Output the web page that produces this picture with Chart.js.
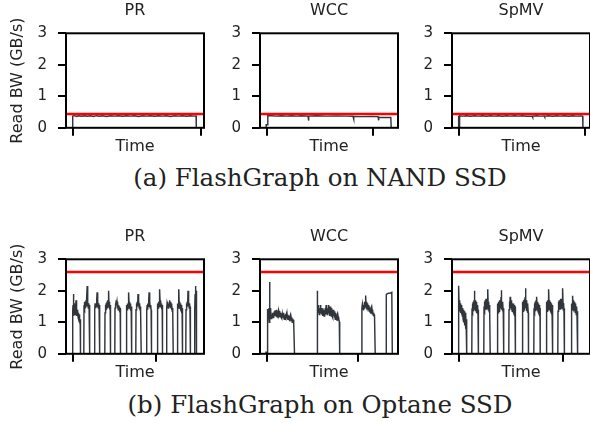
<!DOCTYPE html>
<html lang="en">
<head>
  <meta charset="UTF-8">
  <title>FlashGraph read bandwidth</title>
  <script src="https://cdn.jsdelivr.net/npm/chart.js@4.4.1/dist/chart.umd.min.js"></script>
  <style>
    html, body {
      margin: 0;
      padding: 0;
      background: #fff;
      width: 590px;
      height: 423px;
      overflow: hidden;
    }
    .panel {
      position: absolute;
    }
    .caption {
      position: absolute;
      width: 640px;
      left: 0;
      text-align: center;
      font-family: 'DejaVu Serif', serif;
      font-size: 24.5px;
      line-height: 24px;
      color: #222;
      white-space: nowrap;
    }
  </style>
</head>
<body>
  <canvas class="panel" id="c-pr-nand" width="199" height="154" style="left:8px;top:2px"></canvas>
  <canvas class="panel" id="c-wcc-nand" width="199" height="154" style="left:202px;top:2px"></canvas>
  <canvas class="panel" id="c-spmv-nand" width="199" height="154" style="left:394px;top:2px"></canvas>
  <div class="caption" id="cap-a" style="top:166px"></div>

  <canvas class="panel" id="c-pr-opt" width="199" height="154" style="left:8px;top:228px"></canvas>
  <canvas class="panel" id="c-wcc-opt" width="199" height="154" style="left:202px;top:228px"></canvas>
  <canvas class="panel" id="c-spmv-opt" width="199" height="154" style="left:394px;top:228px"></canvas>
  <div class="caption" id="cap-b" style="top:393px"></div>

  <script>
    // ---- data (time in arbitrary units, bandwidth in GB/s) ----
    const panelTitles = ['PR', 'WCC', 'SpMV'];
    const captions = ['(a) FlashGraph on NAND SSD', '(b) FlashGraph on Optane SSD'];
    const yTicks = [0, 1, 2, 3];
    const nandLimit = 0.44;
    const optaneLimit = 2.6;
    const nandTimeTicks = [0, 128, 0, 106, 0, 126];
    const optaneTimeTicks = [0, 83, 0, 91, 0, 104];

    const prNand = [[0,0],[0.2,0.37],[2,0.385],[4,0.36],[6,0.38],[9,0.365],[12,0.385],[15,0.37],[18,0.38],[21,0.36],
      [24,0.385],[27,0.37],[30,0.38],[34,0.36],[38,0.385],[42,0.37],[46,0.38],[50,0.365],[54,0.385],[58,0.37],
      [62,0.38],[66,0.36],[70,0.385],[74,0.37],[78,0.38],[82,0.365],[86,0.385],[90,0.37],[94,0.38],[98,0.36],
      [102,0.38],[106,0.37],[110,0.385],[114,0.365],[118,0.38],[121,0.37],[123.6,0.375],[123.8,0]];

    const wccNand = [[-0.5,0],[-0.3,0.1],[1.0,0.1],[1.3,0.39],[5,0.38],[10,0.37],[15,0.38],[20,0.37],[25,0.38],
      [30,0.37],[35,0.38],[41.5,0.37],[42,0.23],[42.4,0.37],[50,0.38],[60,0.37],[70,0.375],[80,0.37],
      [86.5,0.365],[87,0.28],[87.4,0.36],[95,0.355],[105,0.36],[111.5,0.355],[112,0.24],[112.4,0.33],
      [118,0.33],[124.3,0.33],[124.7,0]];

    const spmvNand = [[-0.3,0],[-0.1,0.38],[0.4,0.37],[0.6,0],[1.0,0],[1.2,0.38],[4,0.37],[8,0.385],[12,0.365],
      [16,0.38],[20,0.37],[24,0.385],[28,0.365],[32,0.38],[36,0.37],[40,0.385],[44,0.365],[48,0.38],[52,0.37],
      [56,0.385],[60,0.37],[64,0.38],[68,0.365],[73.6,0.37],[74,0.33],[74.4,0.37],[78,0.38],[82,0.37],
      [85.6,0.375],[86,0.34],[86.4,0.37],[90,0.38],[94,0.365],[98,0.38],[102,0.37],[106,0.385],[110,0.365],
      [114,0.38],[118,0.37],[122,0.375],[124.2,0.37],[124.4,0]];

    const prOptane = [
      [0,0],[0.2,1.35],[0.5,1.55],[0.8,1.2],[1.1,1.9],[1.4,1.35],[1.7,1.6],[2.0,1.3],[2.3,1.55],[2.6,1.25],
      [2.9,1.5],[3.2,1.35],[3.5,1.7],[3.8,1.3],[4.1,1.5],[4.4,1.2],[4.7,1.4],[5.0,1.2],[5.3,1.35],[5.6,1.15],
      [5.9,1.3],[6.2,1.1],[6.5,1.25],[6.8,1.05],[7.1,1.15],[7.4,1.0],[7.7,1.1],[8.0,0],
      [11.3,0],[11.5,1.45],[11.9,1.65],[12.3,1.4],[12.7,1.6],[13.1,1.45],[13.5,1.7],[13.9,1.5],[14.3,1.75],
      [14.7,2.15],[15.0,1.5],[15.4,1.65],[15.8,1.45],[16.2,1.6],[16.6,1.45],[17.0,1.55],[17.3,0],
      [22.0,0],[22.2,1.4],[22.6,1.6],[23.0,1.45],[23.4,1.6],[23.8,1.5],[24.2,1.7],[24.6,1.95],[25.0,1.5],
      [25.4,1.65],[25.8,1.45],[26.2,1.6],[26.6,1.45],[27.0,1.55],[27.3,0],
      [32.3,0],[32.5,1.3],[32.9,1.55],[33.3,1.35],[33.7,1.6],[34.1,1.4],[34.5,1.65],[34.9,1.45],[35.3,1.7],
      [35.7,1.55],[36.1,2.0],[36.5,1.5],[36.9,1.65],[37.3,1.45],[37.7,1.55],[38.0,0],
      [42.3,0],[42.5,1.45],[42.9,1.6],[43.3,1.5],[43.7,1.7],[44.1,1.55],[44.5,1.65],[44.9,1.45],[45.3,1.6],
      [45.7,1.4],[46.1,1.55],[46.5,1.4],[46.9,1.5],[47.3,1.35],[47.7,1.45],[48.0,0],
      [53.7,0],[53.9,1.35],[54.3,1.55],[54.7,1.4],[55.1,1.6],[55.5,1.45],[55.9,1.7],[56.3,1.95],[56.7,1.5],
      [57.1,1.65],[57.5,1.45],[57.9,1.6],[58.3,1.4],[58.7,1.5],[59.0,1.35],[59.3,0],
      [63.3,0],[63.5,1.4],[63.9,1.6],[64.3,1.45],[64.7,1.65],[65.1,1.5],[65.5,1.9],[65.9,1.55],[66.3,1.7],
      [66.7,1.45],[67.1,1.6],[67.5,1.4],[67.9,1.5],[68.3,1.35],[68.7,0],
      [74.0,0],[74.2,1.35],[74.6,1.55],[75.0,1.4],[75.4,1.6],[75.8,1.5],[76.2,1.7],[76.6,1.95],[77.0,1.5],
      [77.4,1.65],[77.8,1.45],[78.2,1.55],[78.6,1.4],[79.0,0],
      [84.7,0],[84.9,1.4],[85.3,1.6],[85.7,1.45],[86.1,1.65],[86.5,1.5],[86.9,1.75],[87.3,2.05],[87.7,1.55],
      [88.1,1.7],[88.5,1.5],[88.9,1.6],[89.3,1.45],[89.7,1.55],[90.0,0],
      [94.0,0],[94.2,1.45],[94.6,1.6],[95.0,1.5],[95.4,1.65],[95.8,1.45],[96.2,1.6],[96.6,1.5],[97.0,1.7],
      [97.4,1.5],[97.8,1.65],[98.2,1.45],[98.6,1.6],[99.0,1.4],[99.4,1.55],[99.8,1.35],[100.2,1.45],[100.7,0],
      [104.7,0],[104.9,1.35],[105.3,1.6],[105.7,1.45],[106.1,1.75],[106.4,2.05],[106.8,1.5],[107.2,1.65],
      [107.6,1.45],[108.0,1.6],[108.4,1.4],[108.8,1.55],[109.2,1.35],[109.6,1.45],[110.0,0],
      [113.3,0],[113.5,1.4],[113.9,1.6],[114.3,1.45],[114.7,1.65],[115.1,1.5],[115.5,2.0],[115.9,1.5],
      [116.3,1.65],[116.7,1.45],[117.1,1.6],[117.5,1.4],[117.8,1.5],[118.0,0],
      [122.0,0],[122.2,1.4],[122.6,1.9],[123.0,2.15],[123.3,1.8],[123.6,2.0],[124.0,0]];

    const wccOptane = [
      [-0.7,0],[-0.5,0.05],[0.8,0.05],[1.0,1.0],[1.2,1.42],[1.6,1.2],[2.0,1.45],[2.4,1.3],[2.8,1.0],[3.1,2.28],
      [3.4,1.2],[3.8,1.45],[4.2,1.1],[4.6,1.25],[5.0,1.1],[5.4,1.25],[5.8,1.15],[6.2,1.3],[6.6,1.15],[7.0,1.3],
      [7.4,1.15],[7.8,1.35],[8.2,1.2],[8.6,1.38],[9.0,1.2],[9.4,1.35],[9.8,1.18],[10.2,1.4],[10.6,1.22],
      [11.0,1.35],[11.4,1.18],[11.8,1.32],[12.2,1.15],[12.6,1.3],[13.0,1.2],[13.4,1.36],[13.8,1.18],[14.2,1.3],
      [14.6,1.15],[15.0,1.28],[15.4,1.12],[15.8,1.26],[16.2,1.15],[16.6,1.3],[17.0,1.12],[17.4,1.25],[17.8,1.1],
      [18.2,1.24],[18.6,1.12],[19.0,1.27],[19.4,1.1],[19.8,1.22],[20.2,1.12],[20.6,1.25],[21.0,1.08],[21.4,1.2],
      [21.8,1.1],[22.2,1.22],[22.6,1.08],[23.0,1.2],[23.4,1.06],[23.8,1.18],[24.2,1.05],[24.6,1.16],[25.0,1.04],
      [25.4,1.14],[25.8,1.0],[26.2,1.12],[26.6,1.02],[27.0,1.08],[27.4,1.0],[28.0,0],
      [50.5,0],[50.7,1.4],[50.9,2.0],[51.2,1.35],[51.6,1.55],[52.0,1.3],[52.4,1.5],[52.8,1.25],[53.2,1.45],
      [53.6,1.3],[54.0,1.55],[54.4,1.3],[54.8,1.45],[55.2,1.25],[55.6,1.4],[56.0,1.2],[56.4,1.45],[56.8,1.25],
      [57.2,1.4],[57.6,1.2],[58.0,1.35],[58.4,1.2],[58.8,1.45],[59.2,1.25],[59.6,1.55],[60.0,1.3],[60.4,1.5],
      [60.8,1.25],[61.2,1.45],[61.6,1.3],[62.0,1.55],[62.4,1.3],[62.8,1.45],[63.2,1.2],[63.6,1.5],[64.0,1.25],
      [64.4,1.4],[64.8,1.2],[65.2,1.45],[65.6,1.2],[66.0,1.35],[66.4,1.15],[66.8,1.4],[67.2,1.2],[67.6,1.35],
      [68.0,1.15],[68.4,1.3],[68.8,1.1],[69.2,1.3],[69.6,1.1],[70.0,1.25],[70.4,1.08],[70.8,1.2],[71.2,1.05],
      [71.6,1.18],[72.0,1.05],[72.4,1.12],[72.8,1.02],[73.2,0],
      [95.2,0],[95.4,1.45],[95.8,1.55],[96.2,1.4],[96.6,1.5],[97.0,1.38],[97.4,1.55],[97.8,1.45],[98.2,1.65],
      [98.6,1.5],[99.0,1.75],[99.3,1.85],[99.6,1.5],[100.0,1.65],[100.4,1.45],[100.8,1.6],[101.2,1.4],
      [101.6,1.55],[102.0,1.38],[102.4,1.5],[102.8,1.35],[103.2,1.5],[103.6,1.32],[104.0,1.45],[104.4,1.3],
      [104.8,1.42],[105.2,1.28],[105.6,1.4],[106.0,1.25],[106.4,1.35],[106.8,1.22],[107.2,1.3],[107.6,1.2],
      [108.0,1.25],[108.7,0],
      [119.5,0],[119.8,1.88],[120.5,1.9],[122.0,1.92],[124.0,1.93],[125.3,1.95],[125.8,0]];

    const spmvOptane = [
      [-0.2,0],[0,1.45],[0.3,2.16],[0.6,1.45],[1.0,1.7],[1.4,1.35],[1.8,1.6],[2.2,1.3],[2.6,1.55],[3.0,1.25],
      [3.4,1.5],[3.8,1.2],[4.2,1.45],[4.6,1.1],[5.0,1.4],[5.4,1.0],[5.8,1.35],[6.2,0.9],[6.6,1.3],[7.0,0.8],
      [7.4,1.25],[7.8,0.7],[8.1,1.1],[8.3,0],
      [13.3,0],[13.5,1.35],[13.9,1.6],[14.3,1.3],[14.7,1.65],[15.1,1.35],[15.5,1.7],[15.9,2.0],[16.3,1.4],
      [16.7,1.7],[17.1,1.35],[17.5,1.65],[17.9,1.3],[18.3,1.6],[18.7,1.3],[19.1,1.55],[19.5,1.25],[19.8,1.4],[20.0,0],
      [25.3,0],[25.5,1.4],[25.9,1.65],[26.3,1.35],[26.7,1.7],[27.1,1.4],[27.5,1.75],[27.9,1.4],[28.3,1.7],
      [28.7,1.45],[29.1,1.8],[29.4,2.05],[29.8,1.4],[30.2,1.65],[30.6,1.35],[31.0,1.55],[31.4,1.3],[31.7,0],
      [38.7,0],[38.9,1.35],[39.3,1.6],[39.7,1.3],[40.1,1.65],[40.5,1.35],[40.9,1.7],[41.3,1.4],[41.7,1.7],
      [42.1,1.45],[42.5,1.8],[42.8,2.02],[43.2,1.4],[43.6,1.65],[44.0,1.35],[44.4,1.6],[44.8,1.3],[45.1,1.45],[45.3,0],
      [50.3,0],[50.5,1.4],[50.9,1.65],[51.3,1.45],[51.7,1.81],[52.1,1.45],[52.5,1.7],[52.9,1.4],[53.3,1.65],
      [53.7,1.35],[54.1,1.6],[54.5,1.35],[54.9,1.6],[55.3,1.3],[55.7,1.55],[56.1,1.3],[56.5,1.5],[56.8,1.3],[57.0,0],
      [63.7,0],[63.9,1.4],[64.3,1.65],[64.7,1.35],[65.1,1.7],[65.5,1.4],[65.9,1.75],[66.3,1.45],[66.7,1.8],
      [67.0,2.08],[67.4,1.45],[67.8,1.7],[68.2,1.35],[68.6,1.6],[69.0,1.3],[69.4,1.55],[69.8,1.3],[70.0,0],
      [75.3,0],[75.5,1.35],[75.9,1.6],[76.3,1.3],[76.7,1.65],[77.1,1.35],[77.5,1.7],[77.9,1.45],[78.3,1.81],
      [78.7,1.4],[79.1,1.65],[79.5,1.35],[79.9,1.6],[80.3,1.3],[80.7,1.55],[81.1,1.3],[81.5,1.45],[81.7,0],
      [87.7,0],[87.9,1.35],[88.3,1.65],[88.7,1.35],[89.1,1.7],[89.5,1.4],[89.9,1.8],[90.3,2.05],[90.7,1.45],
      [91.1,1.7],[91.5,1.4],[91.9,1.65],[92.3,1.35],[92.7,1.6],[93.1,1.3],[93.5,1.55],[93.9,1.3],[94.3,0],
      [99.3,0],[99.5,1.35],[99.9,1.65],[100.3,1.35],[100.7,1.7],[101.1,1.4],[101.5,1.7],[101.9,1.4],[102.3,1.75],
      [102.7,1.45],[103.1,1.75],[103.5,1.45],[103.9,1.8],[104.3,2.08],[104.7,1.4],[105.1,1.6],[105.5,1.3],
      [105.8,1.45],[106.0,0],
      [112.7,0],[112.9,1.4],[113.3,1.6],[113.7,1.4],[114.1,1.84],[114.5,1.45],[114.9,1.7],[115.3,1.4],
      [115.7,1.65],[116.1,1.35],[116.5,1.6],[116.9,1.3],[117.3,1.55],[117.7,1.25],[118.1,1.5],[118.5,1.2],
      [118.9,1.35],[119.3,0],[124.0,0]];

    // ---- drawing ----
    const inkColor = '#222';
    const lineColor = '#30363c';
    const sansFont = 'DejaVu Sans';
    const X_MIN = -6.5, X_MAX = 131.5;

    // black frame round the plot area (over the lines) and the panel name centred above it
    const framePlugin = {
      id: 'frame',
      afterDatasetsDraw(chart, args, opts) {
        const { ctx, chartArea: a } = chart;
        ctx.save();
        ctx.strokeStyle = '#000';
        ctx.lineWidth = 2;
        ctx.strokeRect(a.left, a.top, a.right - a.left, a.bottom - a.top);
        ctx.fillStyle = inkColor;
        ctx.font = '16px "' + sansFont + '"';
        ctx.textAlign = 'center';
        ctx.textBaseline = 'middle';
        ctx.fillText(opts.text, (a.left + a.right) / 2, a.top - 22.3);
        ctx.restore();
      }
    };

    function tickGrid() {
      return { drawOnChartArea: false, drawTicks: true, tickLength: 8, tickWidth: 2, tickColor: '#000', color: '#000', lineWidth: 2 };
    }

    function drawPanel(id, title, series, limit, tickSecond, showYTitle) {
      new Chart(document.getElementById(id), {
        type: 'line',
        data: {
          datasets: [
            { data: [{ x: X_MIN, y: limit }, { x: X_MAX, y: limit }], borderColor: '#ff0000', borderWidth: 2.5, pointRadius: 0 },
            { data: series.map(p => ({ x: p[0], y: p[1] })), borderColor: lineColor, borderWidth: 1.45, pointRadius: 0, tension: 0 }
          ]
        },
        options: {
          responsive: false,
          animation: false,
          devicePixelRatio: 1,
          layout: { padding: { top: 31.3, left: 0, right: 3, bottom: 0 } },
          plugins: {
            legend: { display: false },
            tooltip: { enabled: false },
            title: { display: false },
            frame: { text: title }
          },
          scales: {
            x: {
              type: 'linear', min: X_MIN, max: X_MAX,
              afterBuildTicks: s => { s.ticks = [{ value: 0 }, { value: tickSecond }]; },
              afterFit: s => { s.height = 28.2; },
              ticks: { display: false },
              grid: tickGrid(),
              border: { display: false },
              title: { display: true, text: 'Time', color: inkColor, font: { family: sansFont, size: 16 }, padding: 0 }
            },
            y: {
              min: 0, max: 3,
              afterBuildTicks: s => { s.ticks = yTicks.map(v => ({ value: v })); },
              afterFit: s => { s.width = 58; },
              ticks: { color: inkColor, font: { family: sansFont, size: 15 }, padding: 11 },
              grid: tickGrid(),
              border: { display: false },
              title: { display: showYTitle, text: 'Read BW (GB/s)', color: inkColor, font: { family: sansFont, size: 16 }, padding: 0 }
            }
          }
        },
        plugins: [framePlugin]
      });
    }

    drawPanel('c-pr-nand', panelTitles[0], prNand, nandLimit, nandTimeTicks[1], true);
    drawPanel('c-wcc-nand', panelTitles[1], wccNand, nandLimit, nandTimeTicks[3], false);
    drawPanel('c-spmv-nand', panelTitles[2], spmvNand, nandLimit, nandTimeTicks[5], false);
    drawPanel('c-pr-opt', panelTitles[0], prOptane, optaneLimit, optaneTimeTicks[1], true);
    drawPanel('c-wcc-opt', panelTitles[1], wccOptane, optaneLimit, optaneTimeTicks[3], false);
    drawPanel('c-spmv-opt', panelTitles[2], spmvOptane, optaneLimit, optaneTimeTicks[5], false);

    document.getElementById('cap-a').textContent = captions[0];
    document.getElementById('cap-b').textContent = captions[1];
  </script>
</body>
</html>
